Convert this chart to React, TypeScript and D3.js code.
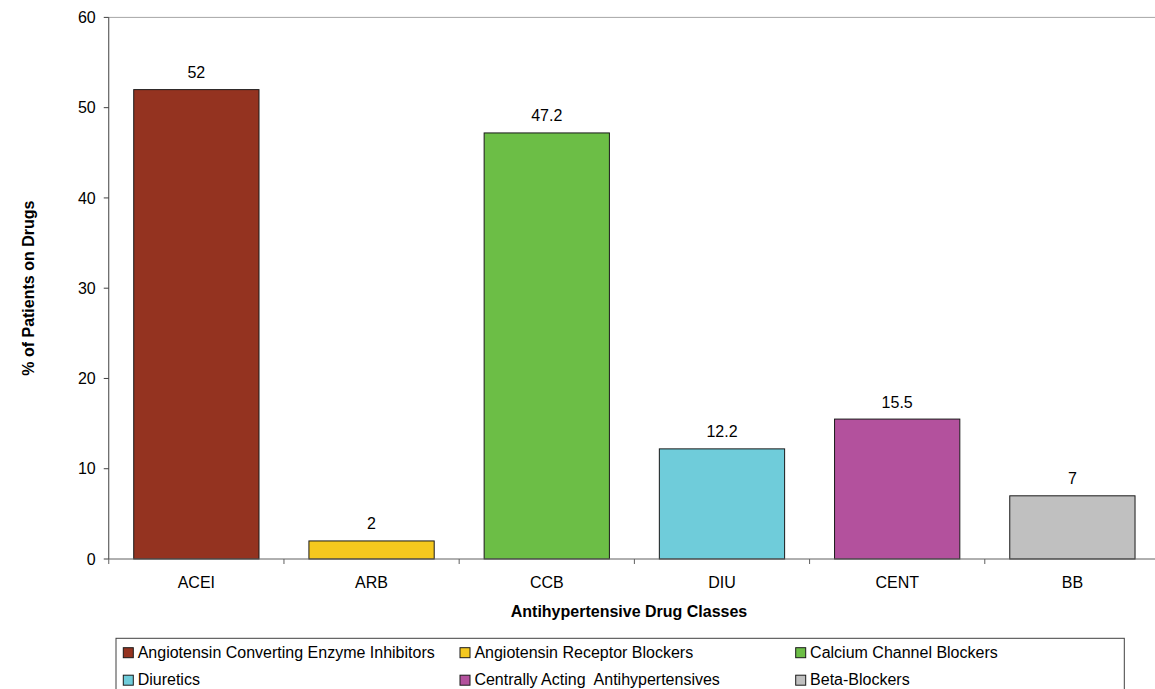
import React from "react";
import * as d3 from "d3";

const categories = ["ACEI", "ARB", "CCB", "DIU", "CENT", "BB"];
const values = [52, 2, 47.2, 12.2, 15.5, 7];
const valueLabels = ["52", "2", "47.2", "12.2", "15.5", "7"];
const colors = ["#943320", "#F5C81E", "#6CBE46", "#6FCCDA", "#B3519D", "#C0C0C0"];
const legendNames = [
  "Angiotensin Converting Enzyme Inhibitors",
  "Angiotensin Receptor Blockers",
  "Calcium Channel Blockers",
  "Diuretics",
  "Centrally Acting  Antihypertensives",
  "Beta-Blockers",
];
const yTicks = [0, 10, 20, 30, 40, 50, 60];

const W = 1155;
const H = 689;
const FONT = "Arial, 'Liberation Sans', Helvetica, sans-serif";

export default function App() {
  const left = 108.75;
  const right = 1160;
  const top = 17.4;
  const bottom = 559;

  const x = d3
    .scaleBand<string>()
    .domain(categories)
    .range([left, right])
    .paddingInner(0.285)
    .paddingOuter(0.1425);
  const y = d3.scaleLinear().domain([0, 60]).range([bottom, top]);
  const step = x.step();

  const legendColX = [123.3, 460, 795.7];
  const legendRowY = [647.7, 675.2];

  return (
    <svg
      width={W}
      height={H}
      style={{ position: "fixed", left: 0, top: 0, background: "#fff" }}
      fontFamily={FONT}
    >
      <rect x={0} y={0} width={W} height={H} fill="#fff" />
      {/* top border */}
      <line x1={left} x2={W} y1={top} y2={top} stroke="#a6a6a6" strokeWidth={1} />
      {/* bars */}
      {categories.map((c, i) => (
        <rect
          key={c}
          x={x(c)}
          y={y(values[i])}
          width={x.bandwidth()}
          height={bottom - y(values[i])}
          fill={colors[i]}
          stroke="#1a1a1a"
          strokeWidth={1}
        />
      ))}
      {/* value labels */}
      {categories.map((c, i) => (
        <text
          key={"v" + c}
          x={(x(c) as number) + x.bandwidth() / 2}
          y={y(values[i]) - 11.5}
          textAnchor="middle"
          fontSize={16}
          fill="#000"
        >
          {valueLabels[i]}
        </text>
      ))}
      {/* y axis */}
      <line x1={left} x2={left} y1={top} y2={bottom} stroke="#404040" strokeWidth={1} />
      {yTicks.map((t) => (
        <g key={"yt" + t}>
          <line x1={left - 5} x2={left} y1={y(t)} y2={y(t)} stroke="#404040" />
          <text x={left - 13} y={y(t) + 5.7} textAnchor="end" fontSize={16} fill="#000">
            {t}
          </text>
        </g>
      ))}
      {/* x axis */}
      <line x1={left} x2={W} y1={bottom} y2={bottom} stroke="#606060" strokeWidth={1} />
      {categories.map((c, i) => (
        <line
          key={"xt" + c}
          x1={left + step * i}
          x2={left + step * i}
          y1={bottom}
          y2={bottom + 5}
          stroke="#606060"
        />
      ))}
      {categories.map((c) => (
        <text
          key={"xl" + c}
          x={(x(c) as number) + x.bandwidth() / 2}
          y={588}
          textAnchor="middle"
          fontSize={16}
          fill="#000"
        >
          {c}
        </text>
      ))}
      {/* axis titles */}
      <text x={629} y={617} textAnchor="middle" fontSize={16} fontWeight="bold" fill="#000">
        Antihypertensive Drug Classes
      </text>
      <text
        transform={`translate(33.5, ${(top + bottom) / 2}) rotate(-90)`}
        textAnchor="middle"
        fontSize={16}
        fontWeight="bold"
        fill="#000"
      >
        % of Patients on Drugs
      </text>
      {/* legend */}
      <rect x={116} y={638.3} width={1008.3} height={60} fill="none" stroke="#404040" strokeWidth={1} />
      {legendNames.map((n, i) => {
        const cx = legendColX[i % 3];
        const ry = legendRowY[Math.floor(i / 3)];
        return (
          <g key={"lg" + i}>
            <rect x={cx} y={ry} width={10} height={10} fill={colors[i]} stroke="#1a1a1a" strokeWidth={1} />
            <text x={cx + 14.4} y={ry + 10} fontSize={16} fill="#000" style={{ whiteSpace: "pre" }}>
              {n}
            </text>
          </g>
        );
      })}
    </svg>
  );
}
